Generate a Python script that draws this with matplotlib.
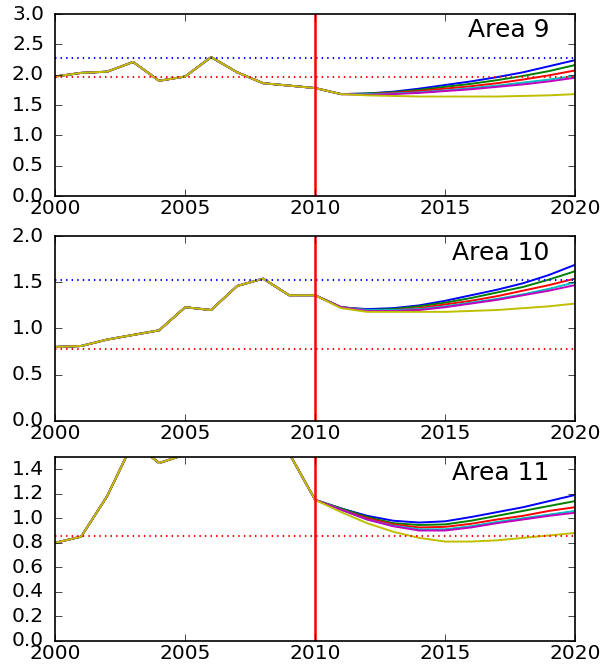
import matplotlib
matplotlib.use("Agg")
import matplotlib.pyplot as plt
from matplotlib.ticker import FormatStrFormatter, ScalarFormatter
import numpy as np

plt.style.use("classic")

years_hist = list(range(2000, 2011))
years_proj = list(range(2010, 2021))
series_colors = ["b", "g", "r", "c", "m", "y"]

# Area 9
a9_hist = [1.97, 2.03, 2.05, 2.21, 1.90, 1.97, 2.29, 2.04, 1.86, 1.82, 1.78]
a9_proj = {
    "b": [1.78, 1.68, 1.69, 1.72, 1.77, 1.83, 1.89, 1.96, 2.04, 2.14, 2.24],
    "g": [1.78, 1.68, 1.69, 1.71, 1.75, 1.80, 1.85, 1.91, 1.98, 2.06, 2.16],
    "r": [1.78, 1.68, 1.68, 1.70, 1.73, 1.77, 1.81, 1.86, 1.92, 1.99, 2.07],
    "c": [1.78, 1.68, 1.68, 1.69, 1.71, 1.74, 1.78, 1.82, 1.87, 1.92, 1.98],
    "m": [1.78, 1.68, 1.67, 1.68, 1.70, 1.73, 1.76, 1.80, 1.84, 1.89, 1.95],
    "y": [1.78, 1.68, 1.66, 1.65, 1.64, 1.64, 1.64, 1.64, 1.65, 1.66, 1.68],
}
a9_ref_blue = 2.28
a9_ref_red = 1.97

# Area 10
a10_hist = [0.80, 0.81, 0.88, 0.93, 0.98, 1.23, 1.20, 1.46, 1.54, 1.36, 1.36]
a10_proj = {
    "b": [1.36, 1.23, 1.21, 1.22, 1.25, 1.30, 1.36, 1.42, 1.49, 1.58, 1.69],
    "g": [1.36, 1.23, 1.20, 1.21, 1.24, 1.28, 1.33, 1.39, 1.45, 1.53, 1.62],
    "r": [1.36, 1.23, 1.20, 1.20, 1.22, 1.26, 1.30, 1.35, 1.41, 1.47, 1.54],
    "c": [1.36, 1.23, 1.20, 1.20, 1.21, 1.24, 1.28, 1.32, 1.37, 1.43, 1.50],
    "m": [1.36, 1.23, 1.19, 1.19, 1.20, 1.23, 1.27, 1.31, 1.36, 1.41, 1.47],
    "y": [1.36, 1.22, 1.18, 1.18, 1.18, 1.18, 1.19, 1.20, 1.22, 1.24, 1.27],
}
a10_ref_blue = 1.53
a10_ref_red = 0.78

# Area 11
a11_hist = [0.80, 0.85, 1.18, 1.62, 1.45, 1.52, 1.75, 1.90, 1.85, 1.53, 1.15]
a11_proj = {
    "b": [1.15, 1.08, 1.02, 0.98, 0.965, 0.975, 1.01, 1.05, 1.09, 1.14, 1.19],
    "g": [1.15, 1.08, 1.01, 0.96, 0.945, 0.95, 0.98, 1.02, 1.06, 1.10, 1.14],
    "r": [1.15, 1.07, 1.00, 0.95, 0.925, 0.93, 0.955, 0.99, 1.02, 1.06, 1.09],
    "c": [1.15, 1.07, 0.99, 0.94, 0.91, 0.91, 0.935, 0.97, 1.00, 1.03, 1.06],
    "m": [1.15, 1.07, 0.99, 0.935, 0.90, 0.90, 0.925, 0.96, 0.99, 1.02, 1.045],
    "y": [1.15, 1.05, 0.96, 0.89, 0.84, 0.81, 0.81, 0.82, 0.84, 0.86, 0.88],
}
a11_ref_blue = 1.62
a11_ref_red = 0.855

panels = [
    ("Area 9", a9_hist, a9_proj, a9_ref_blue, a9_ref_red, (0, 3.0), np.arange(0, 3.01, 0.5)),
    ("Area 10", a10_hist, a10_proj, a10_ref_blue, a10_ref_red, (0, 2.0), np.arange(0, 2.01, 0.5)),
    ("Area 11", a11_hist, a11_proj, a11_ref_blue, a11_ref_red, (0, 1.5), np.arange(0, 1.41, 0.2)),
]

fig = plt.figure(figsize=(6.06, 6.69), dpi=100, facecolor="white")
boxes = [
    [0.091, 0.707, 0.858, 0.272],
    [0.091, 0.371, 0.858, 0.276],
    [0.091, 0.042, 0.858, 0.275],
]

for (title, hist, proj, rb, rr, ylim, yt), box in zip(panels, boxes):
    ax = fig.add_axes(box)
    ax.set_facecolor("white")
    for c in series_colors:
        ax.plot(years_hist + years_proj[1:], hist + proj[c][1:], color=c, lw=1.4)
    ax.axhline(rb, color="b", ls=":", lw=1.5)
    ax.axhline(rr, color="r", ls=":", lw=1.5)
    ax.axvline(2010, color="r", lw=1.8)
    ax.set_xlim(2000, 2020)
    ax.set_ylim(*ylim)
    ax.set_yticks(yt)
    ax.set_xticks([2000, 2005, 2010, 2015, 2020])
    ax.xaxis.set_major_formatter(ScalarFormatter(useOffset=False))
    ax.yaxis.set_major_formatter(FormatStrFormatter("%.1f"))
    ax.tick_params(labelsize=14.5, direction="in", length=5)
    ax.tick_params(axis="x", pad=2)
    ax.tick_params(axis="y", pad=8)
    ax.text(0.95, 0.91, title, transform=ax.transAxes, ha="right", va="center",
            fontsize=18)
    for s in ax.spines.values():
        s.set_linewidth(1.2)

fig.savefig("out.png", dpi=100, facecolor="white")
